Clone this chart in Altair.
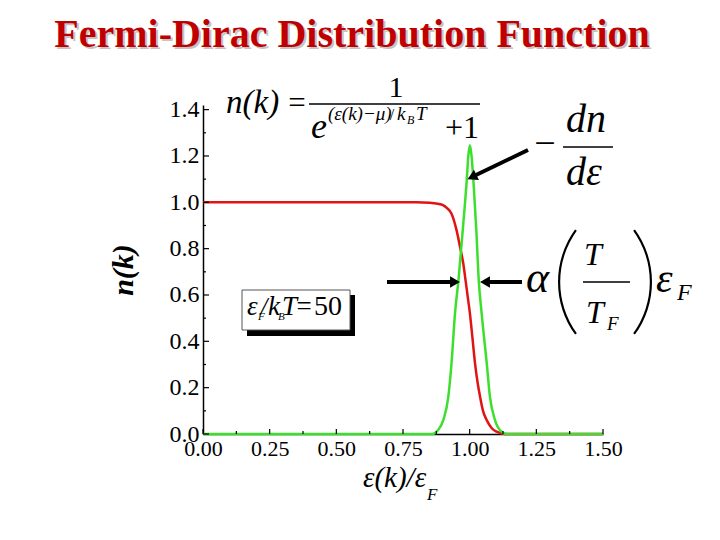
import altair as alt
import pandas as pd

# ---- data ----
energy_n = [0.00, 0.80, 0.85, 0.88, 0.90, 0.915, 0.932, 0.951, 0.964, 0.976, 0.985,
            0.993, 1.001, 1.010, 1.020, 1.030, 1.039, 1.050, 1.064, 1.083, 1.101,
            1.130, 1.20, 1.50]
n_vals = [1.00, 1.00, 0.998, 0.994, 0.988, 0.975, 0.951, 0.879, 0.807, 0.736, 0.66,
          0.59, 0.52, 0.42, 0.306, 0.22, 0.161, 0.10, 0.060, 0.025, 0.010,
          0.0, 0.0, 0.0]

energy_g = [0.00, 0.80, 0.860, 0.880, 0.901, 0.920, 0.932, 0.945, 0.958, 0.974,
            0.989, 0.995, 1.001, 1.007, 1.014, 1.025, 1.034, 1.045, 1.064, 1.076,
            1.095, 1.115, 1.139, 1.20, 1.50]
dn_vals = [0, 0, 0, 0.015, 0.060, 0.161, 0.306, 0.52, 0.664, 0.879,
           1.095, 1.20, 1.246, 1.20, 1.095, 0.879, 0.664, 0.52, 0.306, 0.161,
           0.060, 0.015, 0, 0, 0]

x_major = [0.0, 0.25, 0.5, 0.75, 1.0, 1.25, 1.5]
x_minor = [0.125, 0.375, 0.625, 0.875, 1.125, 1.375]
y_major = [0.0, 0.2, 0.4, 0.6, 0.8, 1.0, 1.2, 1.4]
y_minor = [0.1, 0.3, 0.5, 0.7, 0.9, 1.1, 1.3]

RED = "#e01414"
GREEN = "#3ddf2e"
SERIF = "Liberation Serif"
UPRIGHT = "Liberation Serif, Times New Roman, serif"

# ---- layout (page pixel coordinates) ----
OX, OY = 203, 105
W, H = 400, 329

xs = alt.Scale(domain=[0, 1.5], nice=False, zero=False)
ys = alt.Scale(domain=[0, 1.42], nice=False, zero=False)

one = pd.DataFrame({"a": [0]})


def txt(s, x, y, size, italic=False, bold=False, align="left", baseline="alphabetic",
        color="black", angle=0, font=SERIF):
    kw = dict(text=s, fontSize=size, font=font, align=align, baseline=baseline,
              color=color)
    if italic:
        kw["fontStyle"] = "italic"
    if bold:
        kw["fontWeight"] = "bold"
    if angle:
        kw["angle"] = angle
    return alt.Chart(one).mark_text(**kw).encode(x=alt.value(x - OX), y=alt.value(y - OY))


def hline(x1, x2, y, w=1.5, color="black"):
    return alt.Chart(one).mark_rule(strokeWidth=w, color=color).encode(
        x=alt.value(x1 - OX), x2=alt.value(x2 - OX), y=alt.value(y - OY))


def seg(x1, y1, x2, y2, w=4):
    return alt.Chart(one).mark_rule(strokeWidth=w, color="black").encode(
        x=alt.value(x1 - OX), x2=alt.value(x2 - OX),
        y=alt.value(y1 - OY), y2=alt.value(y2 - OY))


def head(x, y, ang):
    return alt.Chart(one).mark_point(shape="triangle-right", filled=True, size=130,
                                     color="black", opacity=1, angle=ang, strokeWidth=0).encode(
        x=alt.value(x - OX), y=alt.value(y - OY))


def arc(cx, cy, t1, t2, r=89.6, w=2.2):
    return alt.Chart(one).mark_arc(theta=t1, theta2=t2, radius=r, radius2=r - w,
                                   color="black").encode(
        x=alt.value(cx - OX), y=alt.value(cy - OY))


# ---- curves ----
red_df = pd.DataFrame({"e": energy_n, "v": n_vals})
green_df = pd.DataFrame({"e": energy_g, "v": dn_vals})

x_axis = alt.Axis(values=x_major, format=".2f", title=None, ticks=False, grid=False,
                  labelFontSize=22, labelPadding=4, labelFlush=False, labelOverlap=False,
                  labelFont=SERIF, labelColor="black", domainColor="black", domainWidth=1.5)
y_axis = alt.Axis(values=y_major, format=".1f", title=None, ticks=False, grid=False,
                  labelFontSize=24, labelPadding=4, labelFlush=False, labelOverlap=False,
                  labelFont=SERIF, labelColor="black", domainColor="black", domainWidth=1.5)

red_line = alt.Chart(red_df).mark_line(color=RED, strokeWidth=2.5, interpolate="monotone").encode(
    x=alt.X("e:Q", scale=xs, axis=x_axis), y=alt.Y("v:Q", scale=ys, axis=y_axis))
green_line = alt.Chart(green_df).mark_line(color=GREEN, strokeWidth=2.5, interpolate="monotone").encode(
    x=alt.X("e:Q", scale=xs), y=alt.Y("v:Q", scale=ys))

# inward ticks
yM = alt.Chart(pd.DataFrame({"t": y_major})).mark_rule(color="black", strokeWidth=1.2).encode(
    y=alt.Y("t:Q", scale=ys), x=alt.value(0), x2=alt.value(6))
ym = alt.Chart(pd.DataFrame({"t": y_minor})).mark_rule(color="black", strokeWidth=1.2).encode(
    y=alt.Y("t:Q", scale=ys), x=alt.value(0), x2=alt.value(3))
xM = alt.Chart(pd.DataFrame({"t": x_major})).mark_rule(color="black", strokeWidth=1.2).encode(
    x=alt.X("t:Q", scale=xs), y=alt.value(H), y2=alt.value(H - 5))
xm = alt.Chart(pd.DataFrame({"t": x_minor})).mark_rule(color="black", strokeWidth=1.2).encode(
    x=alt.X("t:Q", scale=xs), y=alt.value(H), y2=alt.value(H - 3))

layers = [red_line, green_line, yM, ym, xM, xm]

# ---- title ----
title = "Fermi-Dirac Distribution Function"
layers += [txt(title, 354, 49, 40, bold=True, align="center", color="#c4c4c4"),
           txt(title, 352, 47, 40, bold=True, align="center", color="#c00000")]

# ---- axis titles ----
layers += [txt("n(k)", 133, 270, 30, italic=True, bold=True, align="center", angle=270),
           txt("ε(k)/ε", 363, 487, 29, italic=True),
           txt("F", 427, 500, 17, italic=True)]

# ---- n(k) formula ----
layers += [txt("n(k)", 226, 113, 33, italic=True),
           txt("=", 297, 113, 31, align="center", font=UPRIGHT),
           hline(309, 480, 104),
           txt("1", 396, 97, 30, align="center", font=UPRIGHT),
           txt("e", 311, 138, 36, italic=True),
           txt("(ε(k)−μ)", 328, 120, 19, italic=True),
           txt("/", 392, 120, 16, align="center", font=UPRIGHT),
           txt("k", 397, 120, 19, italic=True),
           txt("B", 407, 124, 12, italic=True),
           txt("T", 416, 120, 19, italic=True),
           txt("+1", 462, 138, 32, align="center", font=UPRIGHT)]

# ---- -dn/dε ----
layers += [txt("−", 545, 156, 38, align="center", font=UPRIGHT),
           txt("dn", 566, 132, 40, italic=True),
           hline(563, 613, 147),
           txt("dε", 566, 185, 40, italic=True)]

# ---- α (T/T_F) ε_F ----
layers += [txt("α", 526, 292, 44, italic=True),
           arc(647.6, 282, 4.085, 5.339),
           arc(562.4, 282, 0.944, 2.198),
           txt("T", 584, 265, 32, italic=True),
           hline(583, 630, 282),
           txt("T", 586, 323, 32, italic=True),
           txt("F", 607, 330, 19, italic=True),
           txt("ε", 656, 292, 42, italic=True),
           txt("F", 677, 300, 24, italic=True)]

# ---- arrows ----
layers += [seg(528, 150, 476, 175), head(472, 177, 154),
           seg(387, 282, 452, 282), head(455, 282, 0),
           seg(522, 282, 488, 282), head(485, 282, 180)]

# ---- box ε_F/k_BT = 50 ----
shadow = alt.Chart(one).mark_rect(color="black").encode(
    x=alt.value(247 - OX), x2=alt.value(355 - OX), y=alt.value(295 - OY), y2=alt.value(336 - OY))
box = alt.Chart(one).mark_rect(fill="white", stroke="#555555", strokeWidth=1).encode(
    x=alt.value(242 - OX), x2=alt.value(350 - OX), y=alt.value(290 - OY), y2=alt.value(330 - OY))
layers += [shadow, box,
           txt("ε", 247, 315, 27, italic=True),
           txt("F", 258, 320, 11, italic=True),
           txt("/", 264, 315, 25, italic=True, align="center"),
           txt("k", 268, 315, 27, italic=True),
           txt("B", 278, 320, 11, italic=True),
           txt("T", 282, 315, 27, italic=True),
           txt("=", 304, 315, 27, align="center", font=UPRIGHT),
           txt("50", 328, 315, 28, align="center", font=UPRIGHT)]

chart = alt.layer(*layers).properties(
    width=W, height=H, autosize="none",
    padding={"left": 195, "top": 97, "right": 109, "bottom": 98},
    background="white",
).configure_view(stroke=None)

chart.save("out.html", embed_options={"renderer": "svg", "actions": False})
